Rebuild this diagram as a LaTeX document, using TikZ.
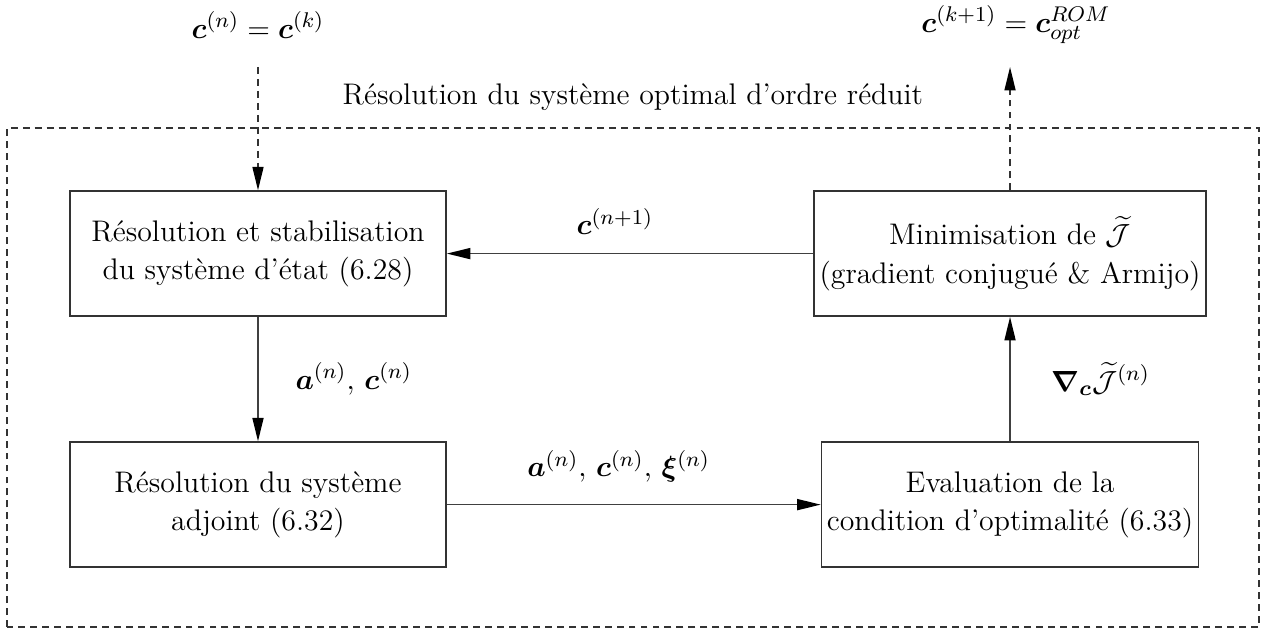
\documentclass[tikz,border=0pt]{standalone}
\usepackage{amsmath,bm}
\usetikzlibrary{arrows.meta, positioning}
\tikzset{
  bloc/.style={draw=black!80, semithick, align=center, minimum width=4.967cm, minimum height=1.651cm, inner sep=2pt, font=\fontsize{11.2}{14.4}\selectfont},
  pointe/.style={-{Triangle[length=3.1mm, width=1.45mm, color=black]}},
  fleche/.style={pointe, draw=black!75, semithick},
  tiret/.style={draw=black!80, semithick, dash pattern=on 2.6pt off 1.9pt},
  etiq/.style={font=\fontsize{11.2}{14.4}\selectfont, inner sep=1pt}
}
\begin{document}
\begin{tikzpicture}
\useasboundingbox (0,0) rectangle (16.71,8.35);
% cadre du probleme reduit
\draw[tiret] (0.092,0.066) rectangle (16.63,6.658);
\node[etiq] (titre) at (8.36,7.07) {Résolution du système optimal d'ordre réduit};
% blocs
\node[bloc] (etat) at (3.408,5.0) {Résolution et stabilisation\\du système d'état (6.28)};
\node[bloc] (adjoint) at (3.408,1.684) {Résolution du système\\adjoint (6.32)};
\node[bloc] (optim) at (13.342,1.684) {Evaluation de la\\condition d'optimalité (6.33)};
\node[bloc] (minim) at (13.342,5.0) {Minimisation de $\widetilde{\mathcal{J}}$\\(gradient conjugué \& Armijo)};
% entree / sortie
\node[etiq] (cin) at (3.408,8.02) {$\bm{c}^{(n)}=\bm{c}^{(k)}$};
\node[etiq] (cout) at (13.42,8.02) {$\bm{c}^{(k+1)}=\bm{c}_{opt}^{ROM}$};
\coordinate (din) at (3.408,7.465);
\coordinate (dout) at (13.342,7.465);
\draw[tiret, pointe] (din) -- (etat.north);
\draw[tiret, pointe] (minim.north) -- (dout);
% boucle
\draw[fleche] (etat.south) -- node[etiq, right=0.45cm] {$\bm{a}^{(n)},\,\bm{c}^{(n)}$} (adjoint.north);
\draw[fleche] (adjoint.east) -- node[etiq, above=0.25cm, xshift=-0.2cm] {$\bm{a}^{(n)},\,\bm{c}^{(n)},\,\bm{\xi}^{(n)}$} (optim.west);
\draw[fleche] (optim.north) -- node[etiq, right=0.5cm] {$\bm{\nabla}_{\bm{c}}\widetilde{\mathcal{J}}^{(n)}$} (minim.south);
\draw[fleche] (minim.west) -- node[etiq, above=0.2cm, xshift=-0.2cm] {$\bm{c}^{(n+1)}$} (etat.east);
\end{tikzpicture}
\end{document}
